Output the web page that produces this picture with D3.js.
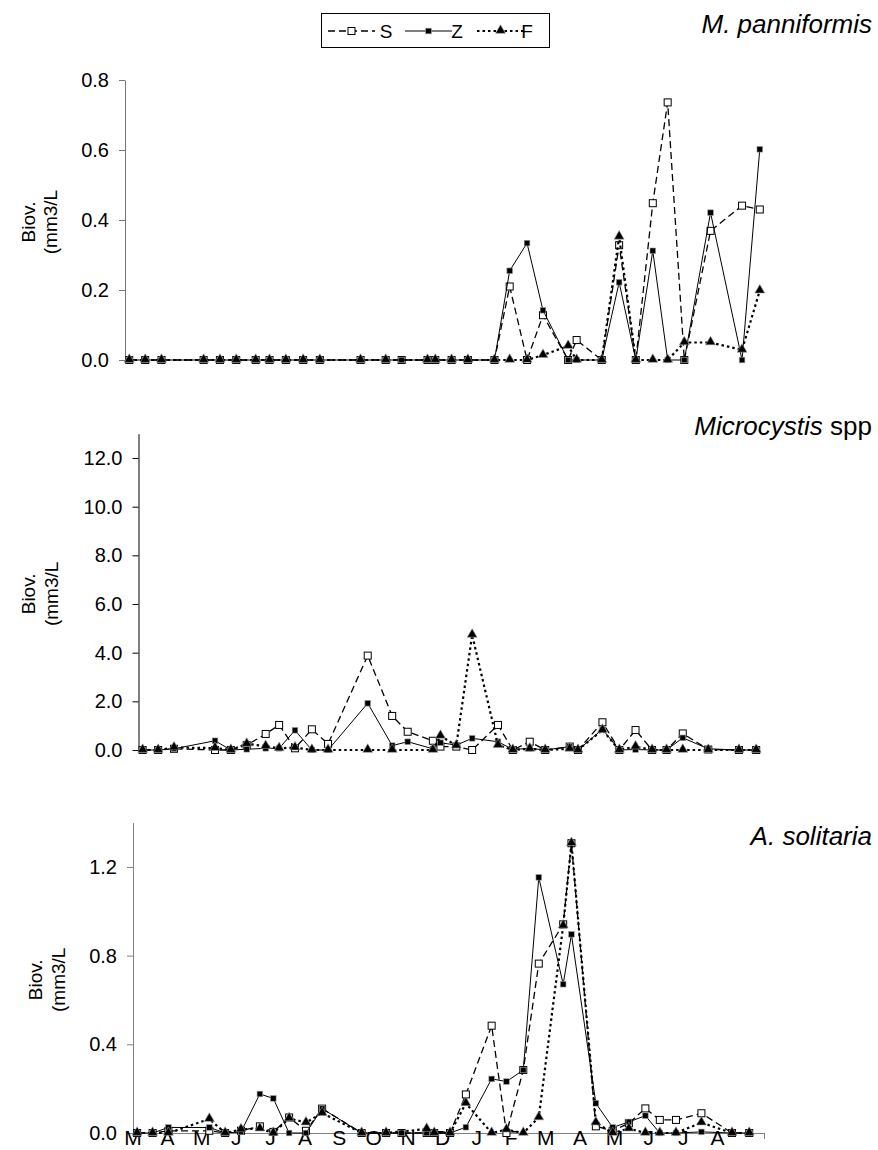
<!DOCTYPE html>
<head>
  <script src="https://d3js.org/d3.v7.min.js"></script>
  <style>
    body { margin: 0; background: #fff; }
    text { font-family: Arial, "Liberation Sans", sans-serif; fill: #000; }
  </style>
</head>
<body>
<script type="text/javascript">
  var w = 878;
  var h = 1150;

  // sampling dates, in months counted from 1 March of the first year
  var sampleMonth = [0.12, 0.57, 1.03, 2.22, 2.68, 3.14, 3.69, 4.08, 4.54, 5.03, 5.50,
    6.65, 7.36, 7.81, 8.54, 8.76, 9.22, 9.68, 10.43, 10.86, 11.35, 11.80,
    12.51, 12.75, 13.46, 13.95, 14.42, 14.90, 15.32, 15.79, 16.53, 17.42, 17.92];
  var monthLabels = ["M", "A", "M", "J", "J", "A", "S", "O", "N", "D", "J", "F", "M", "A", "M", "J", "J", "A"];
  var seriesNames = ["S", "Z", "F"];

  // M. panniformis
  var panniS = [0, 0, 0, 0, 0, 0, 0, 0, 0, 0, 0, 0, 0, 0, 0, 0, 0, 0, 0, 0.21, 0, 0.128, 0, 0.057, 0, 0.328, 0, 0.448, 0.736, 0, 0.369, 0.441, 0.43];
  var panniZ = [0, 0, 0, 0, 0, 0, 0, 0, 0, 0, 0, 0, 0, 0, 0, 0, 0, 0, 0, 0.255, 0.334, 0.142, 0, 0, 0, 0.222, 0, 0.312, 0, 0, 0.421, 0, 0.602];
  var panniF = [0, 0, 0, 0, 0, 0, 0, 0, 0, 0, 0, 0, 0, null, 0, 0, 0, 0, 0, 0, 0, 0.014, 0.04, 0, 0, 0.352, 0, 0, 0, 0.05, 0.05, 0.029, 0.198];
  var panniTicks = [0, 0.2, 0.4, 0.6, 0.8];

  // Microcystis spp
  var microS = [0, 0, 0.05, 0, 0, 0.2, 0.66, 1.03, 0.07, 0.85, 0.25, 3.88, 1.4, 0.75, 0.38, 0.14, 0.14, 0, 1.03, 0, 0.34, 0, 0.14, 0, 1.14, 0, 0.82, 0, 0, 0.68, 0.02, 0, 0];
  var microZ = [0, 0, 0.05, 0.38, 0, 0.03, 0.07, 0.07, 0.81, 0, 0, 1.92, 0.18, 0.34, 0.05, 0.3, 0.2, 0.48, 0.34, 0.02, 0.07, 0, 0.14, 0, 0.85, 0, 0.02, 0, 0, 0.5, 0.05, 0, 0];
  var microF = [0, 0, 0.1, 0.08, 0, 0.25, 0.16, 0.07, 0.1, 0, 0, 0, 0, null, 0, 0.58, 0.18, 4.73, 0.2, 0, 0.05, 0, 0.05, 0, 0.82, 0, 0.14, 0, 0, 0, 0, 0, 0];
  var microTicks = [0, 2, 4, 6, 8, 10, 12];

  // A. solitaria
  var soliS = [0, 0, 0.01, 0.01, 0, 0.01, 0.03, 0.005, 0.07, 0.01, 0.11, 0, 0, 0, 0, 0, 0, 0.174, 0.484, 0, 0.284, 0.764, 0.941, 1.307, 0.03, 0.01, 0.044, 0.111, 0.059, 0.059, 0.089, 0, 0];
  var soliZ = [0, 0, 0.025, 0.025, 0, 0.005, 0.176, 0.156, 0, 0, 0.11, 0, 0, 0, 0, 0, 0, 0.026, 0.244, 0.232, 0.284, 1.153, 0.671, 0.896, 0.134, 0.025, 0.05, 0.078, 0, 0, 0.005, 0, 0];
  var soliF = [0, 0, 0, 0.063, 0, 0.016, 0.02, 0, 0.066, 0.047, 0.09, 0, 0, null, 0.018, 0, 0, 0.134, 0, 0.015, 0, 0.07, 0.935, 1.307, 0.047, 0, 0.02, 0, 0, 0, 0.047, 0, 0];
  var soliTicks = [0, 0.4, 0.8, 1.2];

  var svg = d3.select("body")
    .append("svg")
    .attr("width", w)
    .attr("height", h);

  var styles = {
    S: { dash: "7,4", width: 1.3 },
    Z: { dash: null, width: 1 },
    F: { dash: "2.5,3", width: 2.2 }
  };

  function drawMarker(g, name, cx, cy) {
    if (name == "S") {
      g.append("rect").attr("x", cx - 3.5).attr("y", cy - 3.5)
        .attr("width", 7).attr("height", 7)
        .attr("fill", "#fff").attr("stroke", "#000").attr("stroke-width", 1);
    } else if (name == "Z") {
      g.append("rect").attr("x", cx - 2.8).attr("y", cy - 2.8)
        .attr("width", 5.6).attr("height", 5.6)
        .attr("fill", "#000").attr("stroke", "#999").attr("stroke-width", 0.6);
    } else {
      g.append("path").attr("d", d3.symbol(d3.symbolTriangle).size(42)())
        .attr("transform", "translate(" + cx + "," + (cy - 0.5) + ")")
        .attr("fill", "#000").attr("stroke", "#999").attr("stroke-width", 0.6);
    }
  }

  var panels = [
    { values: [panniS, panniZ, panniF], ticks: panniTicks, yMax: 0.8,
      left: 125, right: 775, bottom: 360, top: 80, axisColor: "#777",
      titleY: 33, labelX: [28, 50] },
    { values: [microS, microZ, microF], ticks: microTicks, yMax: 13,
      left: 138.5, right: 771, bottom: 750, top: 433.7, axisColor: "#000",
      titleY: 435, labelX: [28, 51] },
    { values: [soliS, soliZ, soliF], ticks: soliTicks, yMax: 1.4,
      left: 133, right: 764, bottom: 1133, top: 822.6, axisColor: "#808080",
      titleY: 845, labelX: [35, 58] }
  ];

  panels.forEach(function(p, pi) {
    var xScale = d3.scaleLinear()
      .domain([0, 18.35])
      .range([p.left, p.right]);

    var yScale = d3.scaleLinear()
      .domain([0, p.yMax])
      .range([p.bottom, p.top]);

    var yAxis = svg.append("g")
      .attr("transform", "translate(" + p.left + ",0)")
      .call(d3.axisLeft(yScale)
        .tickValues(p.ticks)
        .tickFormat(d3.format(".1f"))
        .tickSize(6)
        .tickSizeOuter(0)
        .tickPadding(10));
    yAxis.select(".domain").attr("stroke", p.axisColor);
    yAxis.selectAll(".tick line").attr("stroke", p.axisColor);
    yAxis.selectAll(".tick text")
      .style("font-size", "20px")
      .style("font-family", "Arial, 'Liberation Sans', sans-serif");

    // y axis title, two lines
    var yc = (p.top + p.bottom) / 2 + 2;
    ["Biov.", "(mm3/L"].forEach(function(t, k) {
      svg.append("text")
        .attr("transform", "translate(" + p.labelX[k] + "," + yc + ") rotate(-90)")
        .attr("text-anchor", "middle")
        .attr("dy", "0.35em")
        .style("font-size", "19px")
        .text(t);
    });

    // bottom axis only on the last panel
    if (pi == 2) {
      var xAxis = svg.append("g")
        .attr("transform", "translate(0," + p.bottom + ")")
        .call(d3.axisBottom(xScale)
          .tickValues([18.35])
          .tickFormat("")
          .tickSize(6)
          .tickSizeOuter(0));
      xAxis.select(".domain").attr("stroke", p.axisColor);
      xAxis.selectAll(".tick line").attr("stroke", p.axisColor);

      svg.selectAll(".month")
        .data(monthLabels)
        .enter()
        .append("text")
        .attr("class", "month")
        .attr("x", function(d, i) { return xScale(i); })
        .attr("y", 1145)
        .attr("text-anchor", "middle")
        .style("font-size", "21px")
        .text(function(d) { return d; });
    }

    p.values.forEach(function(vals, si) {
      var name = seriesNames[si];
      var pts = [];
      vals.forEach(function(v, i) {
        if (v !== null) pts.push([sampleMonth[i], v]);
      });
      var line = d3.line()
        .x(function(d) { return xScale(d[0]); })
        .y(function(d) { return yScale(d[1]); });
      svg.append("path")
        .attr("d", line(pts))
        .attr("fill", "none")
        .attr("stroke", "#000")
        .attr("stroke-width", styles[name].width)
        .attr("stroke-dasharray", styles[name].dash);
      var g = svg.append("g");
      pts.forEach(function(d) {
        drawMarker(g, name, xScale(d[0]), yScale(d[1]));
      });
    });
  });

  // panel titles
  svg.append("text")
    .attr("x", 872).attr("y", panels[0].titleY)
    .attr("text-anchor", "end")
    .style("font-size", "26px").style("font-style", "italic")
    .text("M. panniformis");
  var t2 = svg.append("text")
    .attr("x", 872).attr("y", panels[1].titleY)
    .attr("text-anchor", "end")
    .style("font-size", "26px");
  t2.append("tspan").style("font-style", "italic").text("Microcystis");
  t2.append("tspan").text(" spp");
  svg.append("text")
    .attr("x", 872).attr("y", panels[2].titleY)
    .attr("text-anchor", "end")
    .style("font-size", "26px").style("font-style", "italic")
    .text("A. solitaria");

  // legend
  var legend = svg.append("g");
  legend.append("rect")
    .attr("x", 321.5).attr("y", 13.5)
    .attr("width", 228).attr("height", 34)
    .attr("fill", "#fff").attr("stroke", "#000").attr("stroke-width", 1);
  var legX = [328, 405, 477];
  var legTextX = [386, 457, 527];
  seriesNames.forEach(function(name, i) {
    var x0 = legX[i];
    legend.append("line")
      .attr("x1", x0).attr("x2", x0 + 47)
      .attr("y1", 31).attr("y2", 31)
      .attr("stroke", "#000")
      .attr("stroke-width", styles[name].width)
      .attr("stroke-dasharray", styles[name].dash);
    drawMarker(legend, name, x0 + 23.5, 31);
    legend.append("text")
      .attr("x", legTextX[i]).attr("y", 38)
      .attr("text-anchor", "middle")
      .style("font-size", "19px")
      .text(name);
  });
</script>
</body>
